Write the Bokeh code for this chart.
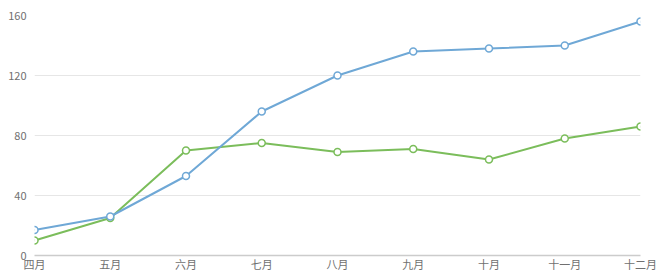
from bokeh.plotting import figure
from bokeh.models import Range1d, FixedTicker
from bokeh.embed import file_html
from bokeh.resources import INLINE

months = ["四月", "五月", "六月", "七月", "八月", "九月", "十月", "十一月", "十二月"]
series_blue = [17, 26, 53, 96, 120, 136, 138, 140, 156]
series_green = [10, 25, 70, 75, 69, 71, 64, 78, 86]
y_ticks = [0, 40, 80, 120, 160]

xs = list(range(len(months)))

p = figure(width=661, height=274, output_backend="svg", toolbar_location=None,
           x_range=Range1d(0, len(months) - 1), y_range=Range1d(0, 160),
           min_border_left=34, min_border_right=21, min_border_top=15, min_border_bottom=17)
p.outline_line_color = None
p.background_fill_color = "white"
p.border_fill_color = "white"

font = "Noto Sans CJK SC"

p.xaxis.ticker = FixedTicker(ticks=xs)
p.xaxis.major_label_overrides = {i: m for i, m in enumerate(months)}
p.xaxis.major_tick_line_color = None
p.xaxis.minor_tick_line_color = None
p.xaxis.major_tick_out = 0
p.xaxis.major_tick_in = 0
p.xaxis.minor_tick_out = 0
p.xaxis.axis_line_color = "#cccccc"
p.xaxis.axis_line_width = 1.5
p.xaxis.major_label_text_color = "#707070"
p.xaxis.major_label_text_font = font
p.xaxis.major_label_text_font_size = "11px"
p.xaxis.major_label_standoff = 0

p.yaxis.ticker = FixedTicker(ticks=y_ticks)
p.yaxis.axis_line_color = None
p.yaxis.major_tick_line_color = None
p.yaxis.minor_tick_line_color = None
p.yaxis.major_tick_out = 0
p.yaxis.major_tick_in = 0
p.yaxis.minor_tick_out = 0
p.yaxis.major_label_text_color = "#707070"
p.yaxis.major_label_text_font = font
p.yaxis.major_label_text_font_size = "11px"
p.yaxis.major_label_standoff = 8

p.xgrid.grid_line_color = None
p.ygrid.grid_line_color = "#e6e6e6"
p.ygrid.grid_line_width = 1

blue = "#6fa8d6"
green = "#7bbd5b"

p.line(xs, series_green, line_color=green, line_width=2)
p.scatter(xs, series_green, size=7, marker="circle", fill_color="white", line_color=green, line_width=1.5)
p.line(xs, series_blue, line_color=blue, line_width=2)
p.scatter(xs, series_blue, size=7, marker="circle", fill_color="white", line_color=blue, line_width=1.5)

open("out.html", "w").write(file_html(p, INLINE))
